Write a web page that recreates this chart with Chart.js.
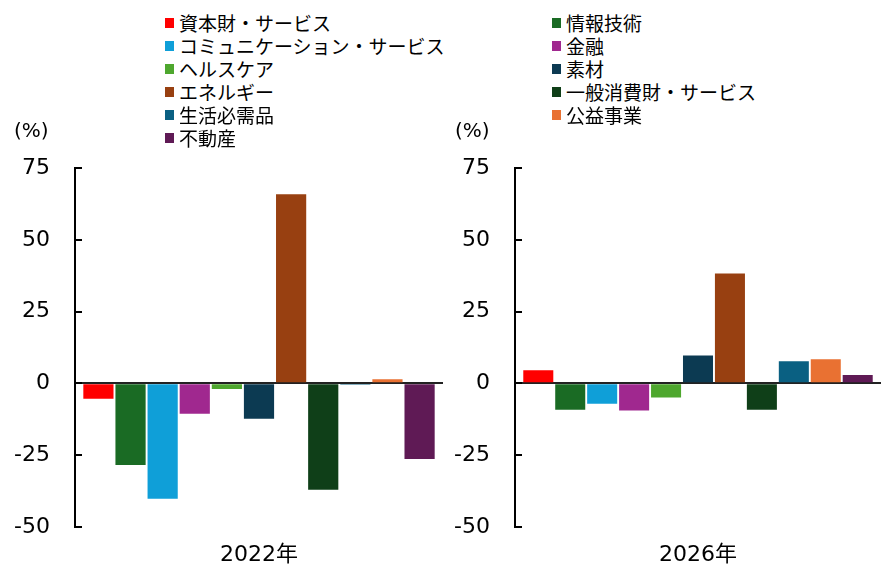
<!DOCTYPE html>
<html>
<head>
<meta charset="utf-8">
<script src="https://cdn.jsdelivr.net/npm/chart.js@4"></script>
<style>
  html, body { margin:0; padding:0; background:#fff; }
  #wrap { position:relative; width:881px; height:565px; overflow:hidden; font-family:"Noto Sans CJK JP", sans-serif; }
  canvas { position:absolute; }
  .lg { position:absolute; font-size:19px; line-height:23px; color:#000; white-space:nowrap; }
  .lg i { position:absolute; left:-14px; top:7px; width:9px; height:10px; }
  .unit { position:absolute; font-size:20px; font-family:"DejaVu Sans", sans-serif; color:#000; }
</style>
</head>
<body>
<div id="wrap">
  <canvas id="c1" style="left:0;top:130px;" width="443" height="435"></canvas>
  <canvas id="c2" style="left:440px;top:130px;" width="441" height="435"></canvas>
  <div class="unit" style="left:14px;top:118px;">(%)</div>
  <div class="unit" style="left:455px;top:118px;">(%)</div>
</div>
<script>
const sectors = ['資本財・サービス','情報技術','コミュニケーション・サービス','金融','ヘルスケア','素材','エネルギー','一般消費財・サービス','生活必需品','公益事業','不動産'];
const colors = ['#FF0000','#1A6B24','#0F9FD8','#A0288F','#4EA72E','#0C3A52','#984011','#0F3F18','#0A6082','#E97132','#5F1A55'];
const values2022 = [-5.4, -28.5, -40.2, -10.6, -2.0, -12.3, 65.9, -37.1, -0.5, 1.4, -26.4];
const values2026 = [4.6, -9.2, -7.1, -9.5, -4.9, 9.7, 38.3, -9.2, 7.7, 8.4, 2.9];
const yTickValues = [-50, -25, 0, 25, 50, 75];

// HTML legend (two columns, row-major)
const wrap = document.getElementById('wrap');
sectors.forEach((name, i) => {
  const col = i % 2, row = Math.floor(i / 2);
  const d = document.createElement('div');
  d.className = 'lg';
  d.style.left = (col === 0 ? 179 : 566) + 'px';
  d.style.top = (11 + row * 23) + 'px';
  const box = document.createElement('i');
  box.style.background = colors[i];
  d.appendChild(box);
  d.appendChild(document.createTextNode(name));
  wrap.appendChild(d);
});

const inwardTicks = {
  id: 'inwardTicks',
  afterDraw(chart) {
    const y = chart.scales.y, ctx = chart.ctx;
    ctx.save();
    ctx.strokeStyle = '#000';
    ctx.lineWidth = 2;
    y.ticks.forEach(t => {
      const py = Math.round(y.getPixelForValue(t.value));
      ctx.beginPath();
      ctx.moveTo(y.right, py);
      ctx.lineTo(y.right + 7, py);
      ctx.stroke();
    });
    ctx.restore();
  }
};

function makeChart(id, label, values) {
  return new Chart(document.getElementById(id), {
    type: 'bar',
    data: {
      labels: [label],
      datasets: sectors.map((s, i) => ({
        label: s,
        data: [values[i]],
        backgroundColor: colors[i],
        borderWidth: 0,
        barPercentage: 0.94,
        categoryPercentage: 0.96
      }))
    },
    options: {
      responsive: false,
      animation: false,
      events: [],
      layout: { padding: { top: 17, right: 0, left: 0, bottom: 0 } },
      plugins: { legend: { display: false }, tooltip: { enabled: false } },
      scales: {
        x: {
          grid: { display: false },
          border: { display: false },
          ticks: { color: '#000', padding: 7, font: { family: 'DejaVu Sans, Noto Sans CJK JP', size: 22 } },
          afterFit(s) { s.height = 38; }
        },
        y: {
          min: -50, max: 75,
          afterBuildTicks(s) { s.ticks = yTickValues.map(v => ({ value: v })); },
          grid: {
            drawTicks: false,
            color: c => (c.tick && c.tick.value === 0) ? '#222' : 'rgba(0,0,0,0)',
            lineWidth: 2
          },
          border: { display: true, color: '#000', width: 2 },
          ticks: { color: '#000', padding: 25, font: { family: 'DejaVu Sans', size: 22 } },
          afterFit(s) { s.width = 75; }
        }
      }
    },
    plugins: [inwardTicks]
  });
}
makeChart('c1', '2022年', values2022);
makeChart('c2', '2026年', values2026);
</script>
</body>
</html>
